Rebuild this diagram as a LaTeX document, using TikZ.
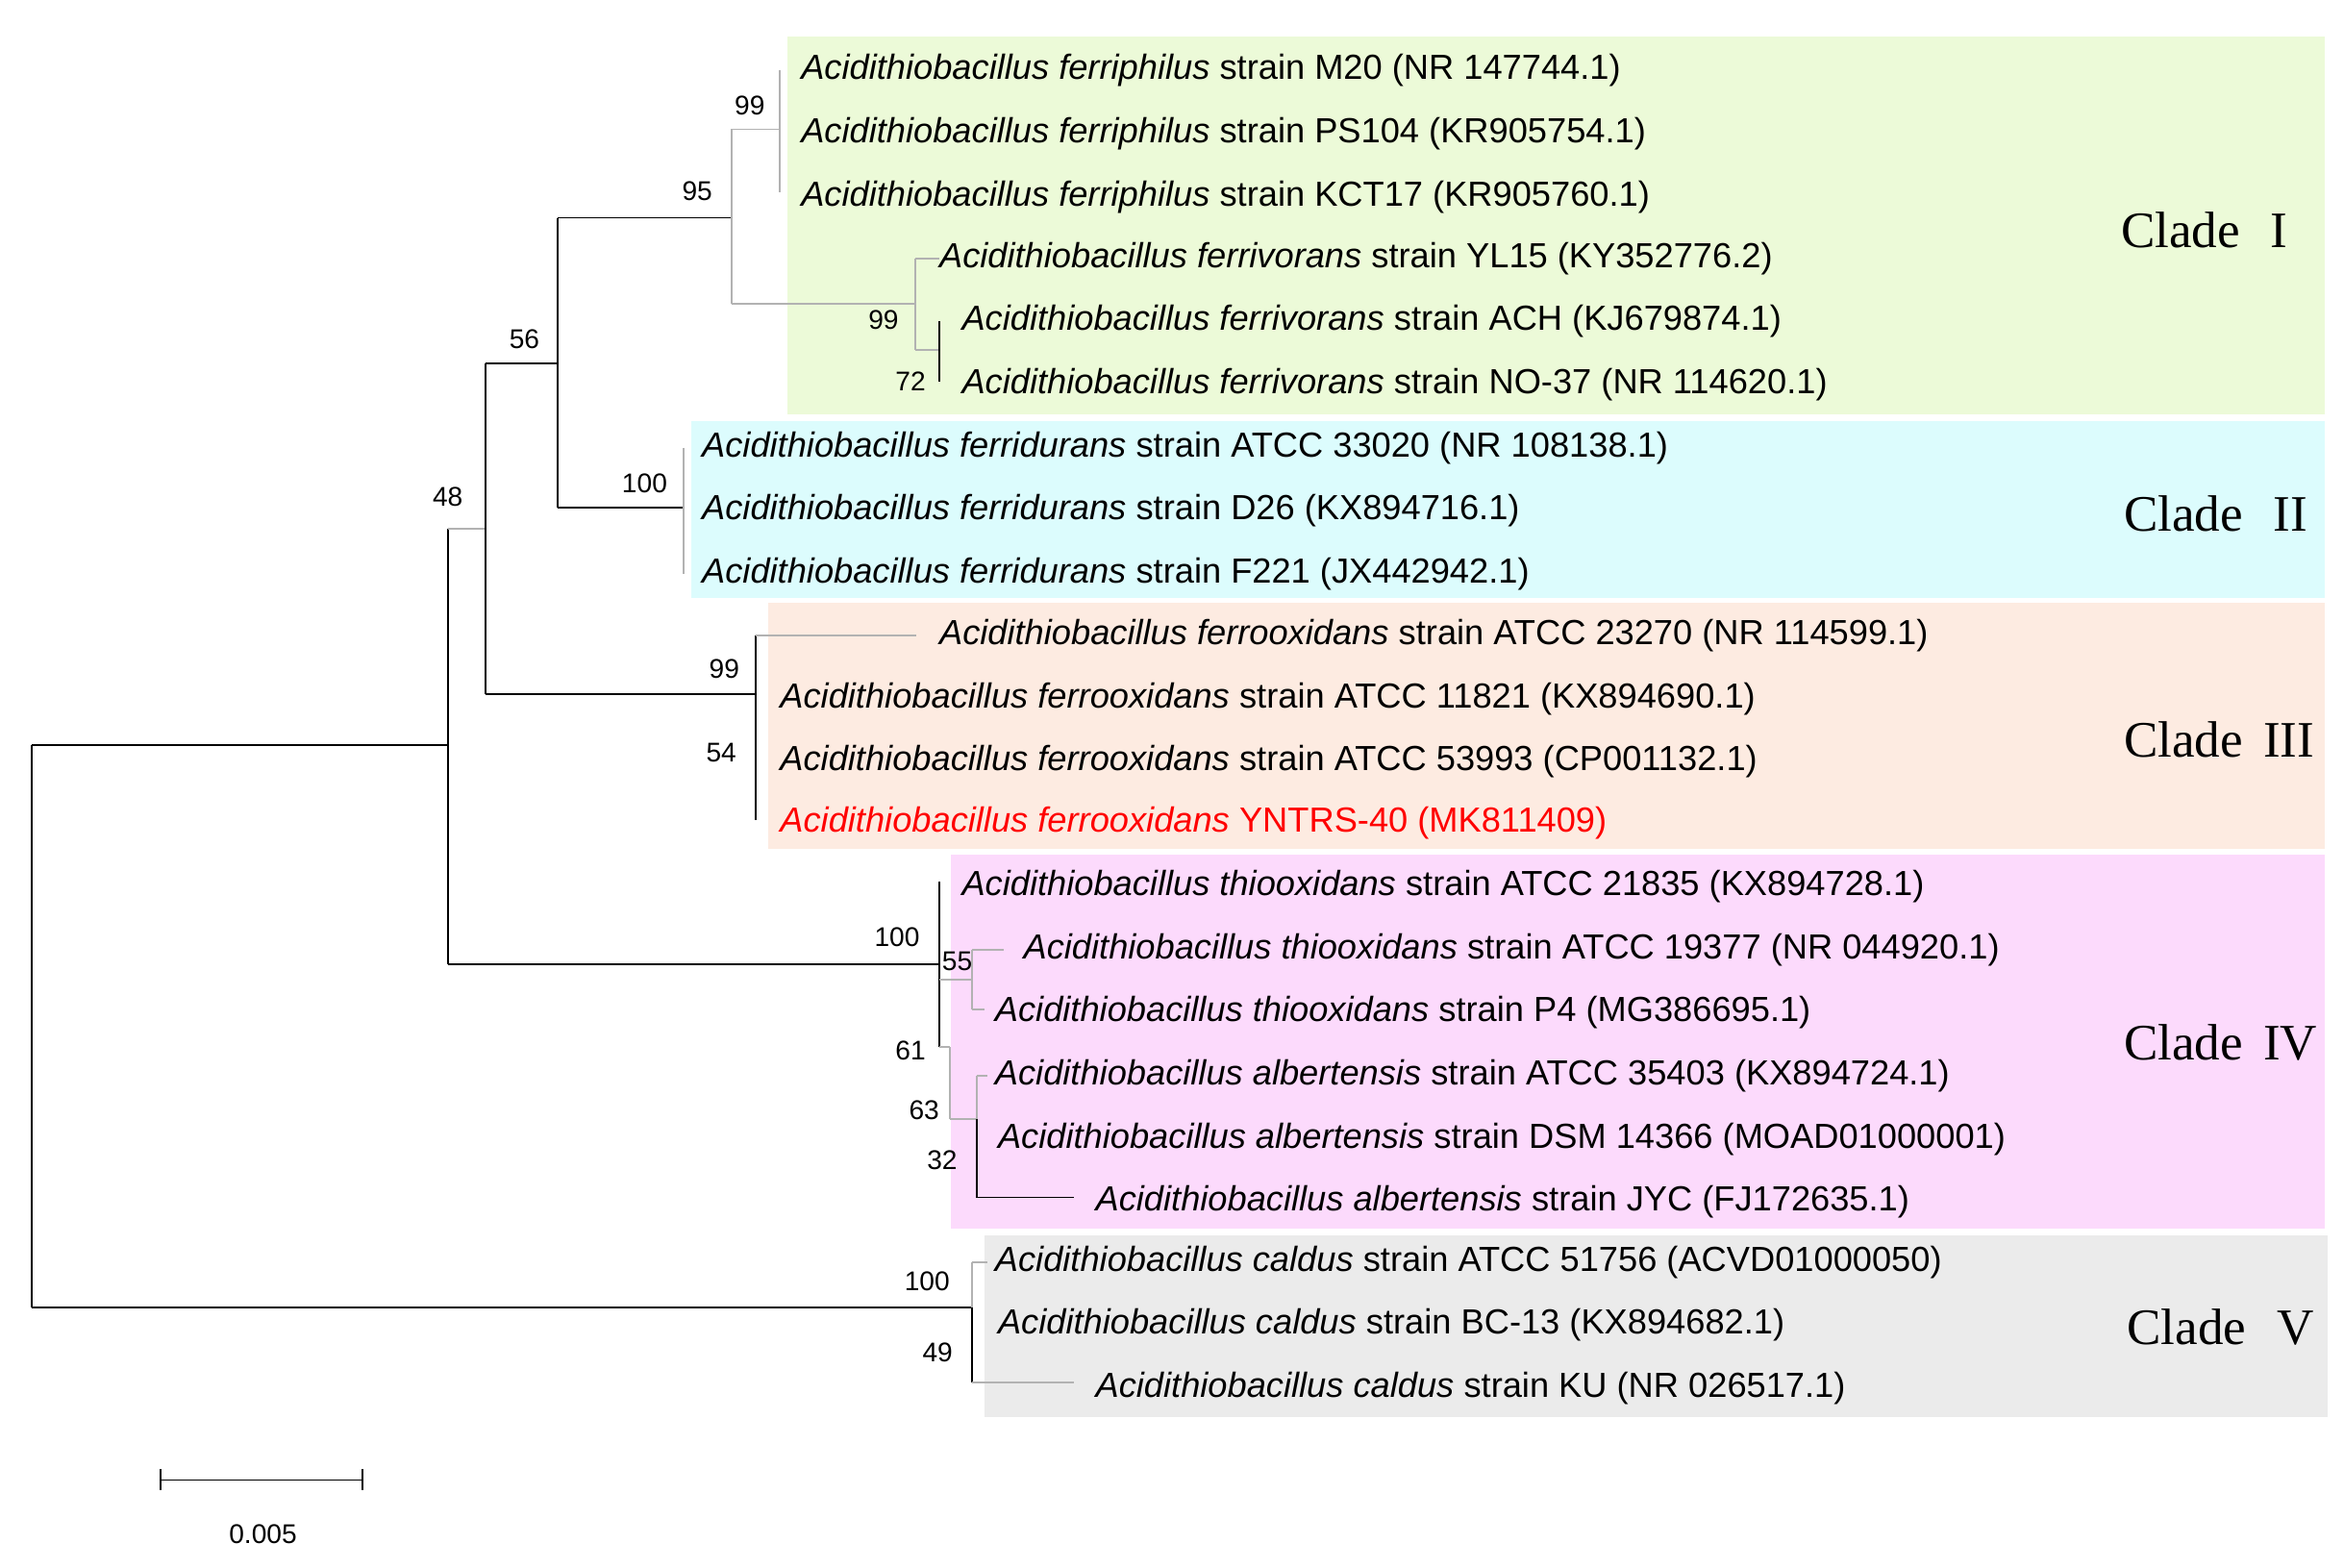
\documentclass[tikz,border=0pt]{standalone}
\usepackage{fontspec}
\setmainfont{Liberation Sans}
\newfontfamily\serifclade{Liberation Serif}
\definecolor{cladeg}{RGB}{236,250,216}
\definecolor{cladec}{RGB}{220,252,253}
\definecolor{cladeo}{RGB}{253,235,225}
\definecolor{cladem}{RGB}{252,218,252}
\definecolor{cladey}{RGB}{235,235,235}
\begin{document}
\begin{tikzpicture}[x=1pt,y=-1pt,
  tip/.style={anchor=west,inner sep=0pt,font=\fontsize{23.2}{25}\selectfont},
  bs/.style={font=\fontsize{18}{20}\selectfont,inner sep=1pt},
  clade/.style={font=\serifclade\fontsize{34}{36}\selectfont,anchor=west},
  br/.style={line width=1.1pt,black},
  gb/.style={line width=1.1pt,gray!60}]
\useasboundingbox (0,0) rectangle (1560,1043);
\fill[fill=cladeg] (524,24) rectangle (1547,276);
\fill[fill=cladec] (460,280) rectangle (1547,398);
\fill[fill=cladeo] (511,401) rectangle (1547,565);
\fill[fill=cladem] (633,569) rectangle (1547,818);
\fill[fill=cladey] (655,822) rectangle (1549,943);
\node[clade] (c1) at (1408,153) {Clade\hspace{0.6em}I};
\node[clade] (c2) at (1410,342) {Clade\hspace{0.6em}II};
\node[clade] (c3) at (1410,492) {Clade\hspace{0.4em}III};
\node[clade] (c4) at (1410,694) {Clade\hspace{0.4em}IV};
\node[clade] (c5) at (1412,883) {Clade\hspace{0.6em}V};
% tips
\node[tip] (t1) at (533,47) {\textit{Acidithiobacillus ferriphilus} strain M20 (NR 147744.1)};
\node[tip] (t2) at (533,89) {\textit{Acidithiobacillus ferriphilus} strain PS104 (KR905754.1)};
\node[tip] (t3) at (533,131) {\textit{Acidithiobacillus ferriphilus} strain KCT17 (KR905760.1)};
\node[tip] (t4) at (625,172) {\textit{Acidithiobacillus ferrivorans} strain YL15 (KY352776.2)};
\node[tip] (t5) at (640,214) {\textit{Acidithiobacillus ferrivorans} strain ACH (KJ679874.1)};
\node[tip] (t6) at (640,256) {\textit{Acidithiobacillus ferrivorans} strain NO-37 (NR 114620.1)};
\node[tip] (t7) at (467,298) {\textit{Acidithiobacillus ferridurans} strain ATCC 33020 (NR 108138.1)};
\node[tip] (t8) at (467,340) {\textit{Acidithiobacillus ferridurans} strain D26 (KX894716.1)};
\node[tip] (t9) at (467,382) {\textit{Acidithiobacillus ferridurans} strain F221 (JX442942.1)};
\node[tip] (t10) at (625,423) {\textit{Acidithiobacillus ferrooxidans} strain ATCC 23270 (NR 114599.1)};
\node[tip] (t11) at (519,465) {\textit{Acidithiobacillus ferrooxidans} strain ATCC 11821 (KX894690.1)};
\node[tip] (t12) at (519,507) {\textit{Acidithiobacillus ferrooxidans} strain ATCC 53993 (CP001132.1)};
\node[tip,text=red] (t13) at (519,548) {\textit{Acidithiobacillus ferrooxidans} YNTRS-40 (MK811409)};
\node[tip] (t14) at (640,590) {\textit{Acidithiobacillus thiooxidans} strain ATCC 21835 (KX894728.1)};
\node[tip] (t15) at (681,632) {\textit{Acidithiobacillus thiooxidans} strain ATCC 19377 (NR 044920.1)};
\node[tip] (t16) at (662,674) {\textit{Acidithiobacillus thiooxidans} strain P4 (MG386695.1)};
\node[tip] (t17) at (662,716) {\textit{Acidithiobacillus albertensis} strain ATCC 35403 (KX894724.1)};
\node[tip] (t18) at (664,758) {\textit{Acidithiobacillus albertensis} strain DSM 14366 (MOAD01000001)};
\node[tip] (t19) at (729,800) {\textit{Acidithiobacillus albertensis} strain JYC (FJ172635.1)};
\node[tip] (t20) at (662,840) {\textit{Acidithiobacillus caldus} strain ATCC 51756 (ACVD01000050)};
\node[tip] (t21) at (664,882) {\textit{Acidithiobacillus caldus} strain BC-13 (KX894682.1)};
\node[tip] (t22) at (729,924) {\textit{Acidithiobacillus caldus} strain KU (NR 026517.1)};
% tree
\draw[br] (21,496) -- (21,870);
\draw[br] (21,496) -- (298,496);
\draw[br] (21,870) -- (647,870);
\draw[br] (298,352) -- (298,642);
\draw[gb] (298,352) -- (323,352);
\draw[br] (323,242) -- (323,462);
\draw[br] (323,242) -- (371,242);
\draw[br] (371,145) -- (371,338);
\draw[br] (371,145) -- (487,145);
\draw[gb] (487,86) -- (487,202);
\draw[gb] (487,86) -- (519,86);
\draw[gb] (519,47) -- (519,128);
\draw[gb] (487,202) -- (609,202);
\draw[gb] (609,172) -- (609,233);
\draw[gb] (609,172) -- (t4.west);
\draw[gb] (609,233) -- (625,233);
\draw[br] (625,214) -- (625,254);
\draw[br] (371,338) -- (455,338);
\draw[gb] (455,298) -- (455,382);
\draw[br] (323,462) -- (503,462);
\draw[br] (503,423) -- (503,546);
\draw[gb] (503,423) -- (610,423);
\draw[br] (298,642) -- (625,642);
\draw[br] (625,587) -- (625,697);
\draw[gb] (625,652) -- (647,652);
\draw[gb] (647,632) -- (647,672);
\draw[gb] (647,632) -- (668,632);
\draw[gb] (647,672) -- (655,672);
\draw[gb] (625,697) -- (632,697);
\draw[gb] (632,697) -- (632,745);
\draw[gb] (632,745) -- (650,745);
\draw[br] (650,745) -- (650,797);
\draw[gb] (650,716) -- (650,745);
\draw[gb] (650,716) -- (657,716);
\draw[br] (650,797) -- (715,797);
\draw[gb] (647,840) -- (647,870);
\draw[br] (647,870) -- (647,920);
\draw[gb] (647,840) -- (657,840);
\draw[gb] (647,920) -- (715,920);
% bootstrap
\node[bs] (b99a) at (499,70) {99};
\node[bs] (b95) at (464,127) {95};
\node[bs] (b56) at (349,226) {56};
\node[bs] (b48) at (298,331) {48};
\node[bs] (b99b) at (588,213) {99};
\node[bs] (b72) at (606,254) {72};
\node[bs] (b100a) at (429,322) {100};
\node[bs] (b99c) at (482,445) {99};
\node[bs] (b54) at (480,501) {54};
\node[bs] (b100b) at (597,624) {100};
\node[bs] (b55) at (637,640) {55};
\node[bs] (b61) at (606,699) {61};
\node[bs] (b63) at (615,739) {63};
\node[bs] (b32) at (627,772) {32};
\node[bs] (b100c) at (617,853) {100};
\node[bs] (b49) at (624,900) {49};
% scale
\coordinate (s1) at (107,985); \coordinate (s2) at (241,985);
\draw[line width=1.1pt] (s1) -- (s2);
\draw[line width=1.1pt] (107,978) -- (107,992) (241,978) -- (241,992);
\node[bs] (sc) at (175,1021) {0.005};
\end{tikzpicture}
\end{document}
